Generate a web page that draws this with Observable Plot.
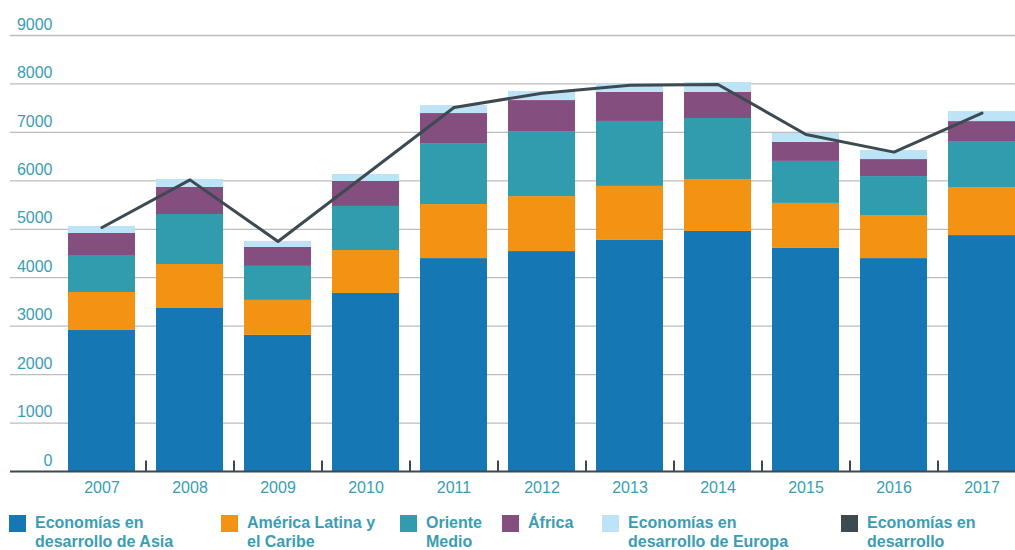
<!DOCTYPE html>
<html><head><meta charset="utf-8">
<script src="https://cdn.jsdelivr.net/npm/d3@7"></script>
<script src="https://cdn.jsdelivr.net/npm/@observablehq/plot@0.6"></script>
<style>
body{margin:0;background:#fff;font-family:"Liberation Sans",Arial,Helvetica,sans-serif;}
#legend{position:relative;height:45px;margin-top:8px;}
.item{position:absolute;top:0;display:flex;align-items:flex-start;}
.sw{width:17px;height:17px;margin-top:2px;margin-right:9px;flex:none;}
.lbl{font-weight:bold;font-size:16px;line-height:19px;color:#3a9db4;white-space:nowrap;}
</style></head><body><div id="chart"></div><div id="legend"></div>
<script>
const years = ["2007","2008","2009","2010","2011","2012","2013","2014","2015","2016","2017"];
const seriesNames = ["Economías en desarrollo de Asia","América Latina y el Caribe","Oriente Medio","África","Economías en desarrollo de Europa"];
const legendLabels = ["Economías en<br>desarrollo de Asia","América Latina y<br>el Caribe","Oriente<br>Medio","África","Economías en<br>desarrollo de Europa","Economías en<br>desarrollo"];
const colors = ["#1577b3","#f39313","#319cae","#844e7e","#bde3f7"];
const lineColor = "#3d4a52";
const asia    = [2910, 3365, 2810, 3675, 4395, 4540, 4770, 4955, 4605, 4395, 4870];
const latam   = [785, 908, 722, 887, 1115, 1135, 1115, 1073, 929, 888, 991];
const medio   = [764, 1032, 702, 909, 1259, 1342, 1341, 1259, 867, 805, 950];
const africa  = [454, 558, 392, 516, 620, 640, 599, 537, 392, 351, 412];
const europa  = [145, 165, 124, 144, 165, 186, 176, 206, 186, 186, 207];
const total   = [5037, 6020, 4748, 6130, 7514, 7810, 7975, 7990, 6957, 6592, 7397];
const yTicks  = [0,1000,2000,3000,4000,5000,6000,7000,8000,9000];

const seriesValues = [asia, latam, medio, africa, europa];
const rows = [];
seriesNames.forEach((s, i) => years.forEach((y, j) => rows.push({year: y, series: s, value: seriesValues[i][j]})));
const lineRows = years.map((y, j) => ({year: y, value: total[j]}));

const textColor = "#3a9db4";
const chart = Plot.plot({
  width: 1015, height: 505,
  marginLeft: 68, marginRight: 0, marginTop: 35, marginBottom: 34,
  style: {fontFamily: '"Liberation Sans", Arial, sans-serif', fontSize: "16px", background: "#fff"},
  x: {domain: years, paddingInner: 0.24, paddingOuter: 0, label: null},
  y: {domain: [0, 9000], label: null},
  color: {domain: seriesNames, range: colors},
  marks: [
    Plot.ruleY(yTicks.slice(1), {stroke: "#bdbdbd", strokeWidth: 1.3, insetLeft: -58}),
    Plot.barY(rows, {x: "year", y: "value", fill: "series", order: seriesNames}),
    Plot.ruleY([0], {stroke: lineColor, strokeWidth: 2, insetLeft: -58}),
    Plot.ruleX(years.slice(1), {x: d => d, dx: -44, y1: 0, y2: 215, stroke: lineColor, strokeWidth: 2}),
    Plot.line(lineRows, {x: "year", y: "value", stroke: lineColor, strokeWidth: 3}),
    Plot.axisY({ticks: yTicks, tickFormat: d => String(d), tickSize: 0, tickPadding: 16, dy: -11, color: textColor, fill: textColor}),
    Plot.axisX({tickSize: 0, tickPadding: 10, color: textColor, fill: textColor})
  ]
});
document.getElementById("chart").appendChild(chart);

const lefts = [9, 221, 400, 502, 602, 841];
const legendColors = colors.concat([lineColor]);
const legend = document.getElementById("legend");
legendLabels.forEach((lab, i) => {
  const it = document.createElement("div");
  it.className = "item";
  it.style.left = lefts[i] + "px";
  it.innerHTML = `<div class="sw" style="background:${legendColors[i]}"></div><div class="lbl">${lab}</div>`;
  legend.appendChild(it);
});
</script>
</body></html>
